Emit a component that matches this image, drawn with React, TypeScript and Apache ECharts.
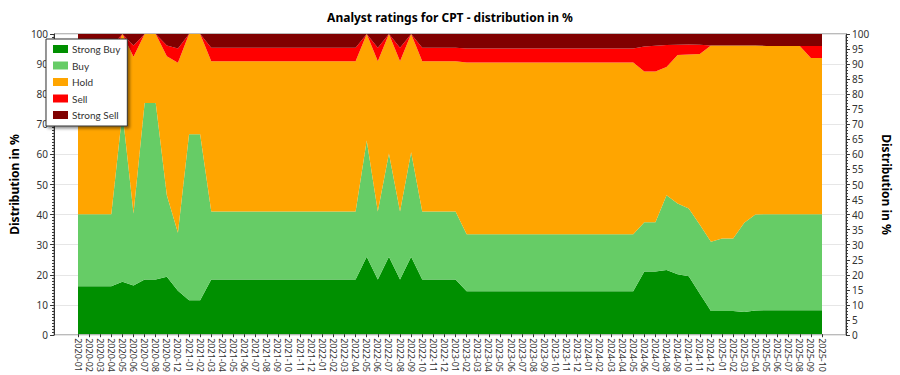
import React, { useEffect, useRef } from "react";
import * as echarts from "echarts";

const categories = [
  "2020-01", "2020-02", "2020-03", "2020-04", "2020-05", "2020-06", "2020-07", "2020-08", "2020-09", "2020-12",
  "2021-01", "2021-02", "2021-03", "2021-04", "2021-05", "2021-06", "2021-07", "2021-08", "2021-09", "2021-10", "2021-11", "2021-12",
  "2022-01", "2022-02", "2022-03", "2022-04", "2022-05", "2022-06", "2022-07", "2022-08", "2022-09", "2022-10", "2022-11", "2022-12",
  "2023-01", "2023-02", "2023-03", "2023-04", "2023-05", "2023-06", "2023-07", "2023-08", "2023-09", "2023-10", "2023-11", "2023-12",
  "2024-01", "2024-02", "2024-03", "2024-04", "2024-05", "2024-06", "2024-07", "2024-08", "2024-09", "2024-10", "2024-11", "2024-12",
  "2025-01", "2025-02", "2025-03", "2025-04", "2025-05", "2025-06", "2025-07", "2025-08", "2025-09", "2025-10",
];

const strongBuy = [
  16, 16, 16, 16, 17.5, 16.2, 18.2, 18.2, 19.1, 14.5,
  11.3, 11.3, 18.2, 18.2, 18.2, 18.2, 18.2, 18.2, 18.2, 18.2, 18.2, 18.2,
  18.2, 18.2, 18.2, 18.2, 25.8, 18.2, 25.8, 18.2, 25.8, 18.2, 18.2, 18.2,
  18.2, 14.3, 14.3, 14.3, 14.3, 14.3, 14.3, 14.3, 14.3, 14.3, 14.3, 14.3,
  14.3, 14.3, 14.3, 14.3, 14.3, 20.9, 20.9, 21.4, 20.0, 19.3, 13.5, 7.7,
  7.7, 7.7, 7.4, 7.9, 8, 8, 8, 8, 8, 8,
];

const buy = [
  24, 24, 24, 24, 56.5, 24, 58.8, 58.8, 27.2, 19.3,
  55.3, 55.3, 22.7, 22.7, 22.7, 22.7, 22.7, 22.7, 22.7, 22.7, 22.7, 22.7,
  22.7, 22.7, 22.7, 22.7, 38.7, 22.7, 34.4, 22.7, 34.8, 22.7, 22.7, 22.7,
  22.7, 19, 19, 19, 19, 19, 19, 19, 19, 19, 19, 19,
  19, 19, 19, 19, 19, 16.4, 16.4, 24.9, 23.5, 22.6, 23, 23.1,
  24.2, 24.2, 29.7, 32, 32, 32, 32, 32, 32, 32,
];

const hold = [
  52, 52, 52, 52, 26, 52.2, 23, 23, 46.3, 56.6,
  33.4, 33.4, 50, 50, 50, 50, 50, 50, 50, 50, 50, 50,
  50, 50, 50, 50, 35.5, 50, 39.8, 50, 39.4, 50, 50, 50,
  50, 57.2, 57.2, 57.2, 57.2, 57.2, 57.2, 57.2, 57.2, 57.2, 57.2, 57.2,
  57.2, 57.2, 57.2, 57.2, 57.2, 50.2, 50.2, 42.7, 49.5, 51.3, 56.8, 65.4,
  64.3, 64.3, 59.1, 56.3, 56, 56, 56, 56, 52, 52,
];

const sell = [
  4, 4, 4, 4, 0, 3.8, 0, 0, 3.6, 4.8,
  0, 0, 4.5, 4.5, 4.5, 4.5, 4.5, 4.5, 4.5, 4.5, 4.5, 4.5,
  4.5, 4.5, 4.5, 4.5, 0, 4.5, 0, 4.5, 0, 4.5, 4.5, 4.5,
  4.5, 4.7, 4.7, 4.7, 4.7, 4.7, 4.7, 4.7, 4.7, 4.7, 4.7, 4.7,
  4.7, 4.7, 4.7, 4.7, 4.7, 8.3, 8.6, 7.3, 3.4, 3.3, 3.1, 0,
  0, 0, 0, 0, 0, 0, 0, 0, 4, 4,
];

const strongSell = [
  4, 4, 4, 4, 0, 3.8, 0, 0, 3.8, 4.8,
  0, 0, 4.6, 4.6, 4.6, 4.6, 4.6, 4.6, 4.6, 4.6, 4.6, 4.6,
  4.6, 4.6, 4.6, 4.6, 0, 4.6, 0, 4.6, 0, 4.6, 4.6, 4.6,
  4.6, 4.8, 4.8, 4.8, 4.8, 4.8, 4.8, 4.8, 4.8, 4.8, 4.8, 4.8,
  4.8, 4.8, 4.8, 4.8, 4.8, 4.2, 3.9, 3.7, 3.6, 3.5, 3.6, 3.8,
  3.8, 3.8, 3.8, 3.8, 4, 4, 4, 4, 4, 4,
];

const seriesNames = ["Strong Buy", "Buy", "Hold", "Sell", "Strong Sell"];
const seriesColors = ["#008F00", "#66CC66", "#FFA500", "#FF0000", "#800000"];
const seriesValues = [strongBuy, buy, hold, sell, strongSell];

const FONT = "Noto Sans";

export default function App() {
  const ref = useRef<HTMLDivElement>(null);

  useEffect(() => {
    if (!ref.current) return;
    const chart = echarts.init(ref.current, null, { renderer: "svg" });
    const option: any = {
      animation: false,
      textStyle: { fontFamily: FONT },
      title: {
        text: "Analyst ratings for CPT - distribution in %",
        left: "center",
        top: 6,
        textStyle: { fontFamily: FONT, fontSize: 12, fontWeight: "bold", color: "#000" },
      },
      legend: {
        data: seriesNames,
        orient: "vertical",
        left: 46,
        top: 39,
        padding: [4, 7, 5, 7],
        itemWidth: 15,
        itemHeight: 8,
        itemGap: 4.5,
        icon: "rect",
        backgroundColor: "#fff",
        borderColor: "#333",
        borderWidth: 1,
        shadowColor: "rgba(0,0,0,0.45)",
        shadowBlur: 3,
        shadowOffsetX: 2,
        shadowOffsetY: 2,
        textStyle: { fontFamily: "Lato", fontSize: 10, color: "#333", lineHeight: 12, padding: [0, 0, 0, -1] },
      },
      grid: [
        { left: 41, right: 41, top: 34, bottom: 40, show: true, borderColor: "#777", borderWidth: 1 },
        { left: 78, right: 78, top: 34, bottom: 40 },
      ],
      xAxis: [
        { gridIndex: 0, type: "value", min: 0, max: 1, show: false },
        {
          gridIndex: 1,
          type: "category",
          boundaryGap: false,
          data: categories,
          axisLine: { show: false },
          axisTick: { show: true, length: 3, lineStyle: { color: "#333" } },
          axisLabel: { interval: 0, rotate: -90, fontFamily: FONT, fontSize: 9, color: "#333", margin: 4 },
          splitLine: { show: false },
        },
      ],
      yAxis: [
        {
          gridIndex: 0,
          type: "value",
          position: "left",
          min: 0,
          max: 100,
          interval: 10,
          name: "Distribution in %",
          nameLocation: "middle",
          nameGap: 27,
          nameTextStyle: { fontFamily: FONT, fontSize: 12, fontWeight: "bold", color: "#000" },
          axisLine: { show: true, lineStyle: { color: "#333" } },
          axisTick: { show: true, length: 4, lineStyle: { color: "#333" } },
          minorTick: { show: true, splitNumber: 10, length: 2, lineStyle: { color: "#333" } },
          axisLabel: { fontFamily: FONT, fontSize: 10, color: "#333", margin: 6 },
          splitLine: { show: true, lineStyle: { color: "#e6e6e6" } },
        },
        {
          gridIndex: 0,
          type: "value",
          position: "right",
          min: 0,
          max: 100,
          interval: 5,
          name: "Distribution in %",
          nameLocation: "middle",
          nameRotate: -90,
          nameGap: 30,
          nameTextStyle: { fontFamily: FONT, fontSize: 12, fontWeight: "bold", color: "#000" },
          axisLine: { show: true, lineStyle: { color: "#333" } },
          axisTick: { show: true, length: 4, lineStyle: { color: "#333" } },
          minorTick: { show: true, splitNumber: 5, length: 2, lineStyle: { color: "#333" } },
          axisLabel: { fontFamily: FONT, fontSize: 10, color: "#333", margin: 6 },
          splitLine: { show: false },
        },
        { gridIndex: 1, type: "value", min: 0, max: 100, show: false },
      ],
      series: seriesNames.map((name, k) => ({
        name,
        type: "line",
        xAxisIndex: 1,
        yAxisIndex: 2,
        stack: "total",
        data: seriesValues[k],
        symbol: "none",
        showSymbol: false,
        lineStyle: { width: 0, opacity: 0 },
        areaStyle: { color: seriesColors[k], opacity: 1 },
        itemStyle: { color: seriesColors[k] },
        emphasis: { disabled: true },
      })),
    };
    chart.setOption(option);
    return () => chart.dispose();
  }, []);

  return (
    <div
      ref={ref}
      style={{ position: "fixed", left: 0, top: 0, width: 900, height: 375, background: "#fff" }}
    />
  );
}
